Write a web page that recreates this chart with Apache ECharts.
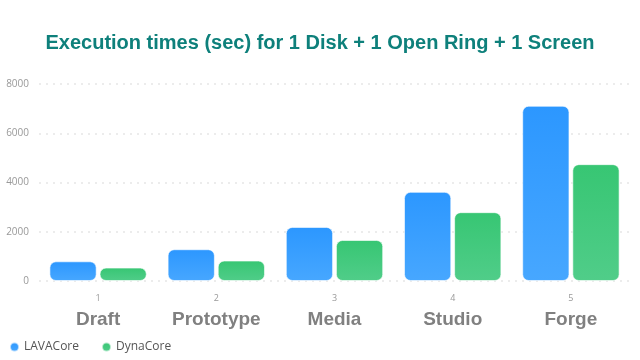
<!DOCTYPE html>
<html><head><meta charset="utf-8">
<script src="https://cdn.jsdelivr.net/npm/echarts@6/dist/echarts.min.js"></script>
<style>html,body{margin:0;padding:0;background:#fff}#c{width:640px;height:360px}</style>
</head><body><div id="c"></div>
<script>
const categories = ['Draft', 'Prototype', 'Media', 'Studio', 'Forge'];
const tickNumbers = ['1', '2', '3', '4', '5'];
const lavaCore = [800, 1290, 2195, 3620, 7115];
const dynaCore = [545, 830, 1665, 2795, 4745];
const yTicks = [0, 2000, 4000, 6000, 8000];

const chart = echarts.init(document.getElementById('c'), null, {renderer: 'canvas'});
function grad(top, bottom) {
  return new echarts.graphic.LinearGradient(0, 0, 0, 1, [{offset: 0, color: top}, {offset: 1, color: bottom}]);
}
chart.setOption({
  animation: false,
  title: {
    text: 'Execution times (sec) for 1 Disk + 1 Open Ring + 1 Screen',
    left: 'center', top: 28,
    textStyle: {fontFamily: 'Liberation Sans, Arial', fontWeight: 'bold', fontSize: 20, color: '#0E807B'}
  },
  legend: {
    left: 4, bottom: 2, icon: 'circle', itemWidth: 9, itemHeight: 9, itemGap: 22,
    textStyle: {fontFamily: 'Open Sans', fontSize: 12, color: '#555'}
  },
  grid: {left: 39, right: 10, top: 84, bottom: 79},
  xAxis: {
    type: 'category', data: categories,
    axisLine: {show: false}, axisTick: {show: false},
    axisLabel: {
      margin: 8,
      formatter: function (v, i) { return '{n|' + tickNumbers[i] + '}\n{c|' + v + '}'; },
      rich: {
        n: {fontFamily: 'Open Sans', fontSize: 9, color: '#999', lineHeight: 18},
        c: {fontFamily: 'Liberation Sans, Arial', fontWeight: 'bold', fontSize: 19, color: '#808080', lineHeight: 26}
      }
    }
  },
  yAxis: {
    type: 'value', min: yTicks[0], max: yTicks[yTicks.length - 1], interval: 2000,
    axisLine: {show: false}, axisTick: {show: false},
    axisLabel: {fontFamily: 'Open Sans', fontSize: 10, color: '#999', margin: 10,
      formatter: function (v) { return String(v); }},
    splitLine: {lineStyle: {color: '#e6e6e6', type: [2, 5], width: 1.5}}
  },
  series: [
    {name: 'LAVACore', type: 'bar', data: lavaCore, barWidth: '40%', barGap: '6%',
     itemStyle: {color: grad('#2C97FF', '#47A7FF'), borderRadius: 6, borderColor: 'rgba(255,255,255,0.6)', borderWidth: 1}},
    {name: 'DynaCore', type: 'bar', data: dynaCore, barWidth: '40%',
     itemStyle: {color: grad('#37C673', '#50CD89'), borderRadius: 6, borderColor: 'rgba(255,255,255,0.6)', borderWidth: 1}}
  ],
  color: ['#2C97FF', '#37C673']
});
</script></body></html>
